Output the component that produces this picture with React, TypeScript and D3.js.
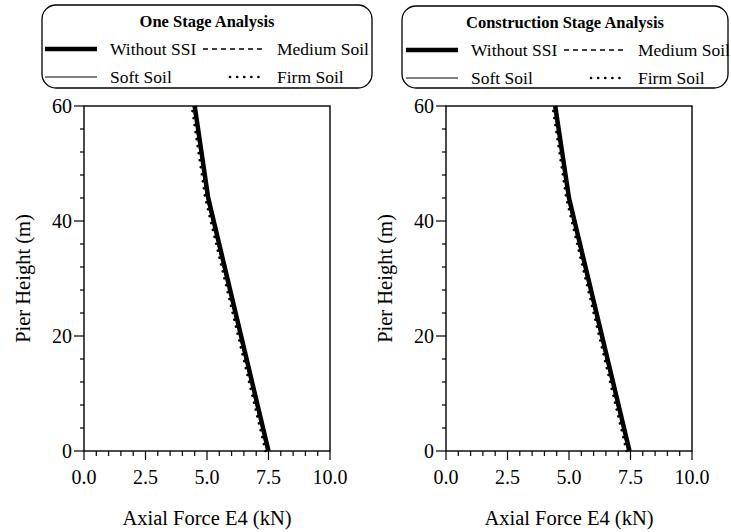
import React from "react";
import * as d3 from "d3";

const heights = [0, 44, 60];

const oneStageWithoutSSI = [7.5, 5.05, 4.5];
const oneStageSoft = [7.46, 5.01, 4.46];
const oneStageMedium = [7.44, 4.99, 4.44];
const oneStageFirm = [7.38, 4.93, 4.38];

const constructionWithoutSSI = [7.46, 5.0, 4.44];
const constructionSoft = [7.42, 4.97, 4.41];
const constructionMedium = [7.4, 4.95, 4.39];
const constructionFirm = [7.34, 4.89, 4.33];

const xTickLabels = ["0.0", "2.5", "5.0", "7.5", "10.0"];
const yTickLabels = ["0", "20", "40", "60"];
const seriesNames = ["Without SSI", "Soft Soil", "Medium Soil", "Firm Soil"];
const panelTitles = ["One Stage Analysis", "Construction Stage Analysis"];

type Style = { width: number; dash?: string; cap?: string };
const styles: Style[] = [
  { width: 4.5 },
  { width: 1.2 },
  { width: 1.3, dash: "5,4" },
  { width: 2.6, dash: "0.1,7", cap: "round" },
];

function T(props: any) {
  return <text {...props} style={{ fontFamily: '"Liberation Serif"' }} />;
}

function Panel({ x0, data, title, legendBox }: { x0: number; data: number[][]; title: string; legendBox: { x: number; y: number; w: number; h: number; lineX: number; col2X: number } }) {
  const x = d3.scaleLinear().domain([0, 10]).range([x0, x0 + 246]);
  const y = d3.scaleLinear().domain([0, 60]).range([451, 106]);
  const xMinor = d3.range(0, 10.01, 0.5);
  const yMinor = d3.range(0, 60.01, 4);
  const mk = (vals: number[]) =>
    d3.line<[number, number]>().x((d) => x(d[0])).y((d) => y(d[1]))(vals.map((v, i) => [v, heights[i]] as [number, number])) || "";
  const order = [0, 1, 2, 3];
  const lb = legendBox;
  const row1 = lb.y + 44;
  const row2 = lb.y + 72;
  return (
    <g>
      <rect x={lb.x} y={lb.y} width={lb.w} height={lb.h} rx={14} ry={14} fill="white" stroke="black" strokeWidth={1.3} />
      <T x={lb.x + lb.w / 2} y={lb.y + 22} textAnchor="middle" fontWeight="bold" fontSize={16.5}>
        {title}
      </T>
      {[0, 1, 2, 3].map((i) => {
        const col = i === 0 || i === 1 ? 0 : 1;
        const rowY = i === 0 || i === 2 ? row1 : row2;
        const s = styles[i];
        const lx1 = col === 0 ? lb.lineX : lb.col2X - (i === 3 ? 60 : 74);
        const lx2 = col === 0 ? lb.lineX + 52 : lb.col2X - 15;
        const tx = col === 0 ? lb.lineX + 65 : lb.col2X;
        return (
          <g key={i}>
            <line x1={i === 3 ? lx1 + 13 : lx1} x2={lx2} y1={rowY} y2={rowY} stroke="black" strokeWidth={s.width} strokeDasharray={s.dash} strokeLinecap={(s.cap as any) || "butt"} />
            <T x={tx} y={rowY + 5.5} fontSize={17.5}>
              {seriesNames[i]}
            </T>
          </g>
        );
      })}
      <rect x={x(0)} y={y(60)} width={x(10) - x(0)} height={y(0) - y(60)} fill="none" stroke="black" strokeWidth={1.4} />
      {xMinor.map((v, i) => {
        const major = i % 5 === 0;
        return <line key={"xt" + i} x1={x(v)} x2={x(v)} y1={y(0)} y2={y(0) + (major ? 9 : 5)} stroke="black" strokeWidth={1.2} />;
      })}
      {xTickLabels.map((t) => (
        <T key={"xl" + t} x={x(+t)} y={484} textAnchor="middle" fontSize={20}>
          {t}
        </T>
      ))}
      {yMinor.map((v, i) => {
        const major = v % 20 === 0;
        return <line key={"yt" + i} x1={x(0) - (major ? 10 : 4)} x2={x(0)} y1={y(v)} y2={y(v)} stroke="black" strokeWidth={1.2} />;
      })}
      {yTickLabels.map((t) => (
        <T key={"yl" + t} x={x(0) - 12} y={y(+t)} dy="0.33em" textAnchor="end" fontSize={20}>
          {t}
        </T>
      ))}
      <T x={(x(0) + x(10)) / 2} y={525} textAnchor="middle" fontSize={20.5}>
        Axial Force E4 (kN)
      </T>
      <T transform={`translate(${x(0) - 54},${(y(0) + y(60)) / 2}) rotate(-90)`} textAnchor="middle" fontSize={20.5}>
        Pier Height (m)
      </T>
      {order.map((i) => (
        <path key={"s" + i} d={mk(data[i])} fill="none" stroke="black" strokeWidth={styles[i].width} strokeDasharray={styles[i].dash} strokeLinecap={(styles[i].cap as any) || "butt"} strokeLinejoin="round" />
      ))}
    </g>
  );
}

export default function App() {
  return (
    <svg width={731} height={532} style={{ position: "absolute", left: 0, top: 0, background: "white", fontFamily: '"Liberation Serif"' }}>
      <rect width={731} height={532} fill="white" />
      <Panel
        x0={84}
        data={[oneStageWithoutSSI, oneStageSoft, oneStageMedium, oneStageFirm]}
        title={panelTitles[0]}
        legendBox={{ x: 42, y: 5, w: 330, h: 83, lineX: 45, col2X: 277 }}
      />
      <Panel
        x0={446}
        data={[constructionWithoutSSI, constructionSoft, constructionMedium, constructionFirm]}
        title={panelTitles[1]}
        legendBox={{ x: 402, y: 6, w: 326, h: 82, lineX: 406, col2X: 638 }}
      />
    </svg>
  );
}
